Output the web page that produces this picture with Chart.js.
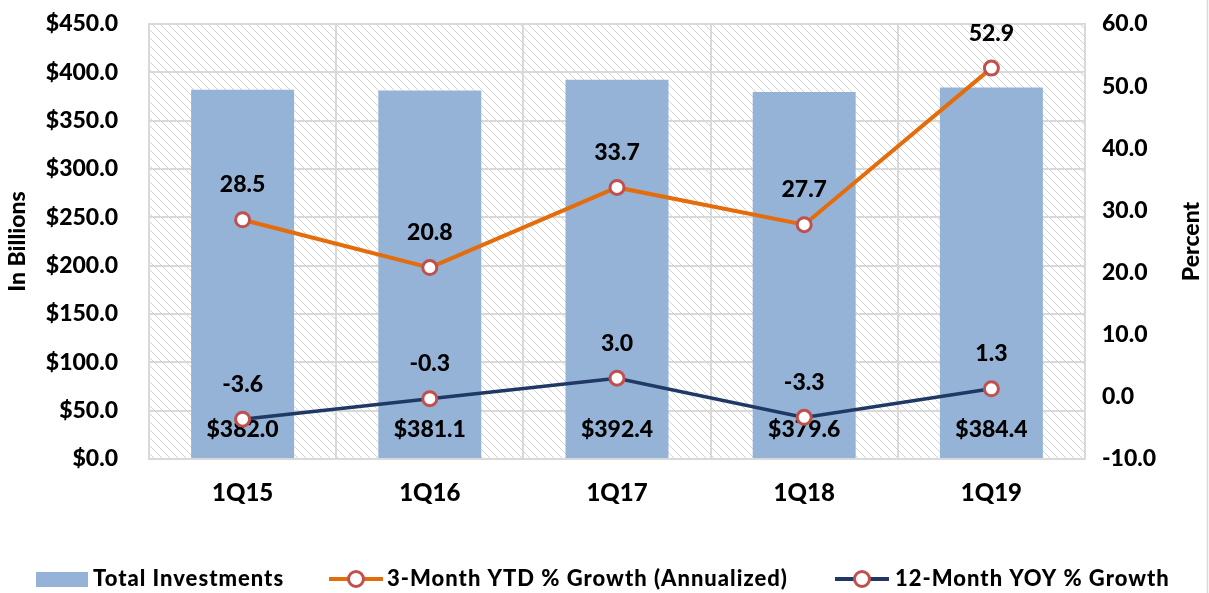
<!DOCTYPE html>
<html>
<head>
<meta charset="utf-8">
<script src="https://cdn.jsdelivr.net/npm/chart.js@4.4.1/dist/chart.umd.min.js"></script>
<style>
  html, body { margin: 0; padding: 0; background: #ffffff; }
  #wrap { position: relative; width: 1209px; height: 593px; }
</style>
</head>
<body>
<div id="wrap"><canvas id="c" width="1209" height="593"></canvas></div>
<script>
const categories = ['1Q15', '1Q16', '1Q17', '1Q18', '1Q19'];
const totalInvestments = [382.0, 381.1, 392.4, 379.6, 384.4];
const ytdGrowth = [28.5, 20.8, 33.7, 27.7, 52.9];
const yoyGrowth = [-3.6, -0.3, 3.0, -3.3, 1.3];
const seriesNames = ['Total Investments', '3-Month YTD % Growth (Annualized)', '12-Month YOY % Growth'];
const leftAxis = { min: 0, max: 450, step: 50, title: 'In Billions' };
const rightAxis = { min: -10, max: 60, step: 10, title: 'Percent' };

const FONT = 'Lato';
const WEIGHT = '900';
const FSIZE = 23;
const XSIZE = 24;
const LEG_FSIZE = 22;
const BAR_COLOR = '#95B3D7';
const ORANGE = '#E46C0A';
const NAVY = '#1F3864';
const MARKER = '#C0504D';
const GRID = '#D9D9D9';

function makeHatch() {
  const t = document.createElement('canvas');
  t.width = 8; t.height = 8;
  const g = t.getContext('2d');
  g.fillStyle = '#ffffff';
  g.fillRect(0, 0, 8, 8);
  g.fillStyle = '#D2D2D2';
  for (let y = 0; y < 8; y++) {
    for (let x = 0; x < 8; x++) {
      const d = ((x - y) % 8 + 8) % 8;
      if ((d === 0 || d === 1) && ((x + y) % 2 === 0 || d === 0)) g.fillRect(x, y, 1, 1);
    }
  }
  return t;
}

const bgPlugin = {
  id: 'bgHatch',
  beforeDraw(chart) {
    const { ctx, chartArea: a } = chart;
    ctx.save();
    ctx.fillStyle = ctx.createPattern(makeHatch(), 'repeat');
    ctx.fillRect(a.left, a.top, a.right - a.left, a.bottom - a.top);
    ctx.restore();
  }
};

const labelPlugin = {
  id: 'valueLabels',
  afterDatasetDraw(chart, args) {
    const { ctx } = chart;
    const i = args.index;
    const meta = chart.getDatasetMeta(i);
    ctx.save();
    ctx.font = WEIGHT + ' ' + FSIZE + 'px ' + FONT;
    ctx.fillStyle = '#000000';
    ctx.textAlign = 'center';
    ctx.textBaseline = 'middle';
    if (i === 0) {
      const base = chart.scales.y.getPixelForValue(0);
      meta.data.forEach((el, k) => {
        ctx.fillText('$' + totalInvestments[k].toFixed(1), el.x, base - 29);
      });
    }
    ctx.restore();
  },
  afterDatasetsDraw(chart) {
    const { ctx } = chart;
    ctx.save();
    ctx.font = WEIGHT + ' ' + FSIZE + 'px ' + FONT;
    ctx.fillStyle = '#000000';
    ctx.textAlign = 'center';
    ctx.textBaseline = 'middle';
    [1, 2].forEach(i => {
      const meta = chart.getDatasetMeta(i);
      const vals = chart.data.datasets[i].data;
      meta.data.forEach((el, k) => {
        ctx.fillText(vals[k].toFixed(1), el.x, el.y - 35);
      });
    });
    ctx.restore();
  },
  afterDraw(chart) {
    const { ctx, chartArea: a } = chart;
    ctx.save();
    ctx.font = WEIGHT + ' ' + FSIZE + 'px ' + FONT;
    ctx.fillStyle = '#000000';
    ctx.textAlign = 'center';
    ctx.textBaseline = 'middle';
    const cy = (a.top + a.bottom) / 2;
    ctx.save();
    ctx.translate(18, cy);
    ctx.rotate(-Math.PI / 2);
    ctx.fillText(leftAxis.title, 0, 0);
    ctx.restore();
    ctx.save();
    ctx.translate(1192, cy);
    ctx.rotate(-Math.PI / 2);
    ctx.fillText(rightAxis.title, 0, 0);
    ctx.restore();

    // legend
    ctx.font = WEIGHT + ' ' + LEG_FSIZE + 'px ' + FONT;
    try { ctx.letterSpacing = '1px'; } catch (e) {}
    const ly = 579;
    ctx.textAlign = 'left';
    ctx.fillStyle = BAR_COLOR;
    ctx.fillRect(36, 572, 52, 15);
    ctx.fillStyle = '#000000';
    ctx.fillText(seriesNames[0], 93, ly);
    const lineIcon = (x0, x1, color, lw) => {
      ctx.strokeStyle = color;
      ctx.lineWidth = lw;
      ctx.beginPath();
      ctx.moveTo(x0, ly);
      ctx.lineTo(x1, ly);
      ctx.stroke();
      ctx.beginPath();
      ctx.arc((x0 + x1) / 2, ly, 7.5, 0, Math.PI * 2);
      ctx.fillStyle = '#ffffff';
      ctx.fill();
      ctx.strokeStyle = MARKER;
      ctx.lineWidth = 3;
      ctx.stroke();
    };
    lineIcon(329, 383, ORANGE, 4);
    ctx.fillStyle = '#000000';
    ctx.fillText(seriesNames[1], 387, ly);
    lineIcon(835, 889, NAVY, 4);
    ctx.fillStyle = '#000000';
    ctx.fillText(seriesNames[2], 895, ly);

    ctx.strokeStyle = GRID;
    ctx.lineWidth = 1.5;
    ctx.beginPath();
    ctx.moveTo(1207.5, 0);
    ctx.lineTo(1207.5, 593);
    ctx.stroke();
    ctx.restore();
  }
};

const tickFont = { family: FONT, size: FSIZE, weight: WEIGHT };
const xTickFont = { family: FONT, size: XSIZE, weight: WEIGHT };

new Chart(document.getElementById('c'), {
  data: {
    labels: categories,
    datasets: [
      {
        type: 'bar',
        label: seriesNames[0],
        data: totalInvestments,
        yAxisID: 'y',
        backgroundColor: BAR_COLOR,
        borderWidth: 0,
        barPercentage: 0.55,
        categoryPercentage: 1.0,
        order: 3
      },
      {
        type: 'line',
        label: seriesNames[1],
        data: ytdGrowth,
        yAxisID: 'y1',
        borderColor: ORANGE,
        borderWidth: 4,
        pointRadius: 7,
        pointBorderWidth: 3,
        pointBackgroundColor: '#ffffff',
        pointBorderColor: MARKER,
        tension: 0,
        order: 2
      },
      {
        type: 'line',
        label: seriesNames[2],
        data: yoyGrowth,
        yAxisID: 'y1',
        borderColor: NAVY,
        borderWidth: 3.5,
        pointRadius: 7,
        pointBorderWidth: 3,
        pointBackgroundColor: '#ffffff',
        pointBorderColor: MARKER,
        tension: 0,
        order: 1
      }
    ]
  },
  options: {
    responsive: false,
    animation: false,
    events: [],
    layout: { padding: { top: 24, left: 0, right: 0, bottom: 0 } },
    plugins: {
      legend: { display: false },
      tooltip: { enabled: false },
      title: { display: false }
    },
    scales: {
      x: {
        offset: true,
        grid: { color: GRID, lineWidth: 2, drawTicks: false, offset: true },
        border: { display: true, color: GRID, width: 2 },
        ticks: { font: xTickFont, color: '#000000', padding: 20, maxRotation: 0 },
        afterFit(s) { s.height = 134; s.paddingLeft = 0; s.paddingRight = 0; }
      },
      y: {
        position: 'left',
        min: leftAxis.min,
        max: leftAxis.max,
        ticks: {
          stepSize: leftAxis.step,
          font: tickFont,
          color: '#000000',
          padding: 31,
          callback: v => '$' + Number(v).toFixed(1)
        },
        grid: { color: GRID, lineWidth: 2, drawTicks: false },
        border: { display: true, color: GRID, width: 2 },
        afterFit(s) { s.width = 149; s.paddingTop = 0; s.paddingBottom = 0; }
      },
      y1: {
        position: 'right',
        min: rightAxis.min,
        max: rightAxis.max,
        ticks: {
          stepSize: rightAxis.step,
          font: tickFont,
          color: '#000000',
          padding: 17,
          callback: v => Number(v).toFixed(1)
        },
        grid: { drawOnChartArea: false, drawTicks: false },
        border: { display: true, color: GRID, width: 2 },
        afterFit(s) { s.width = 124; s.paddingTop = 0; s.paddingBottom = 0; }
      }
    }
  },
  plugins: [bgPlugin, labelPlugin]
});
</script>
</body>
</html>
